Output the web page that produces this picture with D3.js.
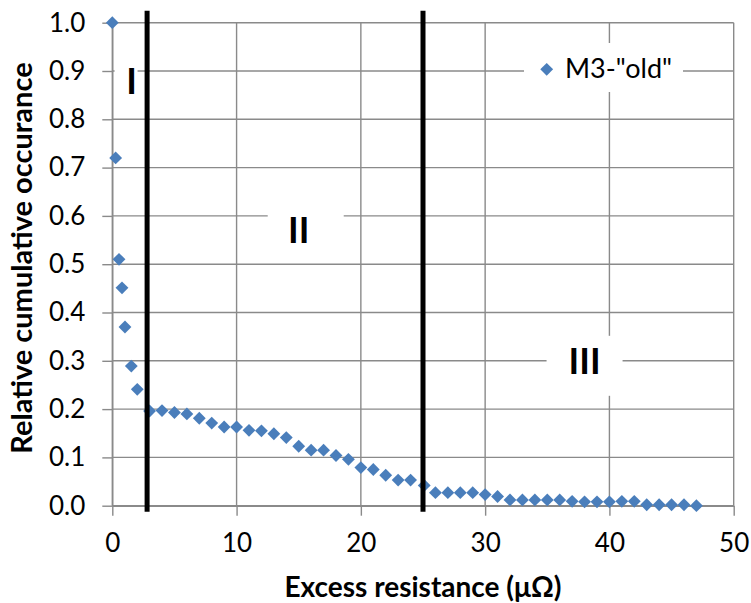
<!DOCTYPE html>
<html lang="en">
	<head>
		<meta charset="utf-8">
		<title>Relative cumulative occurance</title>
		<script type="text/javascript" src="https://cdn.jsdelivr.net/npm/d3@7"></script>
		<style type="text/css">
			html, body {
				margin: 0;
				padding: 0;
				background-color: white;
			}
			svg text {
				font-family: Lato, "Open Sans", sans-serif;
			}
		</style>
	</head>
	<body>
		<script type="text/javascript">

			// data
			var resistance = [0, 0.27, 0.54, 0.78, 1.02, 1.53, 2.01, 3, 4, 5, 6, 7, 8, 9, 10,
				11, 12, 13, 14, 15, 16, 17, 18, 19, 20, 21, 22, 23, 24, 25.1, 26, 27, 28, 29, 30,
				31, 32, 33, 34, 35, 36, 37, 38, 39, 40, 41, 42, 43, 44, 45, 46, 47];
			var occurance = [1.0, 0.72, 0.51, 0.451, 0.37, 0.289, 0.241, 0.196, 0.197, 0.193, 0.19, 0.181, 0.171, 0.163, 0.163,
				0.156, 0.155, 0.149, 0.141, 0.123, 0.115, 0.115, 0.104, 0.096, 0.079, 0.075, 0.063, 0.053, 0.053, 0.042, 0.027, 0.027, 0.027, 0.027, 0.023,
				0.019, 0.012, 0.012, 0.012, 0.012, 0.012, 0.009, 0.008, 0.008, 0.008, 0.009, 0.009, 0.002, 0.002, 0.002, 0.002, 0];
			var seriesName = 'M3-"old"';
			var regionLines = [2.8, 25];
			var regionLabels = ["I", "II", "III"];
			var regionLabelPos = [[1.55, 0.88], [15, 0.57], [38, 0.3]];
			var xTicks = [0, 10, 20, 30, 40, 50];
			var yTicks = [0, 0.1, 0.2, 0.3, 0.4, 0.5, 0.6, 0.7, 0.8, 0.9, 1.0];

			var w = 751;
			var h = 603;
			var plotLeft = 112.3, plotRight = 733.7, plotTop = 22.7, plotBottom = 505.7;
			var tickLen = 10;
			var gridColor = "#8a8a8a";
			var blue = "#4a7ebb";

			var svg = d3.select("body")
						.append("svg")
						.attr("width", w)
						.attr("height", h);

			var xScale = d3.scaleLinear()
							.domain([0, 50])
							.range([plotLeft, plotRight]);

			var yScale = d3.scaleLinear()
							.domain([0, 1])
							.range([plotBottom, plotTop]);

			//gridlines
			svg.append("g")
				.selectAll("line")
				.data(yTicks)
				.enter()
				.append("line")
				.attr("x1", plotLeft)
				.attr("x2", plotRight)
				.attr("y1", function(d) { return yScale(d); })
				.attr("y2", function(d) { return yScale(d); })
				.attr("stroke", gridColor)
				.attr("stroke-width", 1.4);

			svg.append("g")
				.selectAll("line")
				.data(xTicks)
				.enter()
				.append("line")
				.attr("x1", function(d) { return xScale(d); })
				.attr("x2", function(d) { return xScale(d); })
				.attr("y1", plotTop)
				.attr("y2", plotBottom)
				.attr("stroke", gridColor)
				.attr("stroke-width", 1.4);

			//axes
			var yAxis = d3.axisLeft()
							.scale(yScale)
							.tickValues(yTicks)
							.tickFormat(d3.format(".1f"))
							.tickSize(tickLen)
							.tickSizeOuter(0)
							.tickPadding(17);

			var xAxis = d3.axisBottom()
							.scale(xScale)
							.tickValues(xTicks)
							.tickSize(tickLen)
							.tickSizeOuter(0)
							.tickPadding(18);

			var gy = svg.append("g")
				.attr("transform", "translate(" + plotLeft + ",0)")
				.call(yAxis);

			var gx = svg.append("g")
				.attr("transform", "translate(0," + plotBottom + ")")
				.call(xAxis);

			[gx, gy].forEach(function(g) {
				g.selectAll("path, line")
					.attr("stroke", gridColor)
					.attr("stroke-width", 1.4);
				g.selectAll("text")
					.attr("fill", "black")
					.style("font-size", "26px");
			});

			//points
			var diamond = d3.symbol().type(d3.symbolDiamond2).size(105);

			svg.append("g")
				.selectAll("path")
				.data(resistance)
				.enter()
				.append("path")
				.attr("d", diamond)
				.attr("transform", function(d, i) {
					return "translate(" + xScale(d) + "," + yScale(occurance[i]) + ")";
				})
				.attr("fill", blue);

			//region separators
			svg.append("g")
				.selectAll("line")
				.data(regionLines)
				.enter()
				.append("line")
				.attr("x1", function(d) { return xScale(d); })
				.attr("x2", function(d) { return xScale(d); })
				.attr("y1", yScale(1.025))
				.attr("y2", yScale(-0.0125))
				.attr("stroke", "black")
				.attr("stroke-width", 5);

			//region labels with white boxes
			var labels = svg.append("g")
				.selectAll("g")
				.data(regionLabels)
				.enter()
				.append("g")
				.attr("transform", function(d, i) {
					return "translate(" + xScale(regionLabelPos[i][0]) + "," + yScale(regionLabelPos[i][1]) + ")";
				});

			labels.append("rect")
				.attr("x", function(d) { return d.length == 1 ? -17 : (d.length == 2 ? -31 : -38); })
				.attr("y", function(d) { return d.length == 2 ? -30 : -25; })
				.attr("width", function(d) { return d.length == 1 ? 23 : 76; })
				.attr("height", function(d) { return d.length == 2 ? 57 : 60; })
				.attr("fill", "white");

			labels.append("text")
				.text(function(d) { return d; })
				.attr("text-anchor", "middle")
				.attr("y", 13)
				.style("font-size", "36px")
				.style("font-weight", "bold")
				.attr("fill", "black");

			//legend
			var legend = svg.append("g")
				.attr("transform", "translate(524,43)");

			legend.append("rect")
				.attr("width", 159)
				.attr("height", 49)
				.attr("fill", "white");

			legend.append("path")
				.attr("d", diamond)
				.attr("transform", "translate(22.7,26.3)")
				.attr("fill", blue);

			legend.append("text")
				.text(seriesName)
				.attr("x", 41)
				.attr("y", 35)
				.style("font-size", "27px")
				.attr("fill", "black");

			//axis titles
			svg.append("text")
				.text("Excess resistance (\u03bc\u03a9)")
				.attr("x", (plotLeft + plotRight) / 2)
				.attr("y", 597)
				.attr("text-anchor", "middle")
				.style("font-size", "28px")
				.style("font-weight", "bold")
				.attr("fill", "black");

			svg.append("text")
				.text("Relative cumulative occurance")
				.attr("transform", "translate(32,258) rotate(-90)")
				.attr("text-anchor", "middle")
				.style("font-size", "29px")
				.style("font-weight", "bold")
				.attr("fill", "black");

		</script>
	</body>
</html>
